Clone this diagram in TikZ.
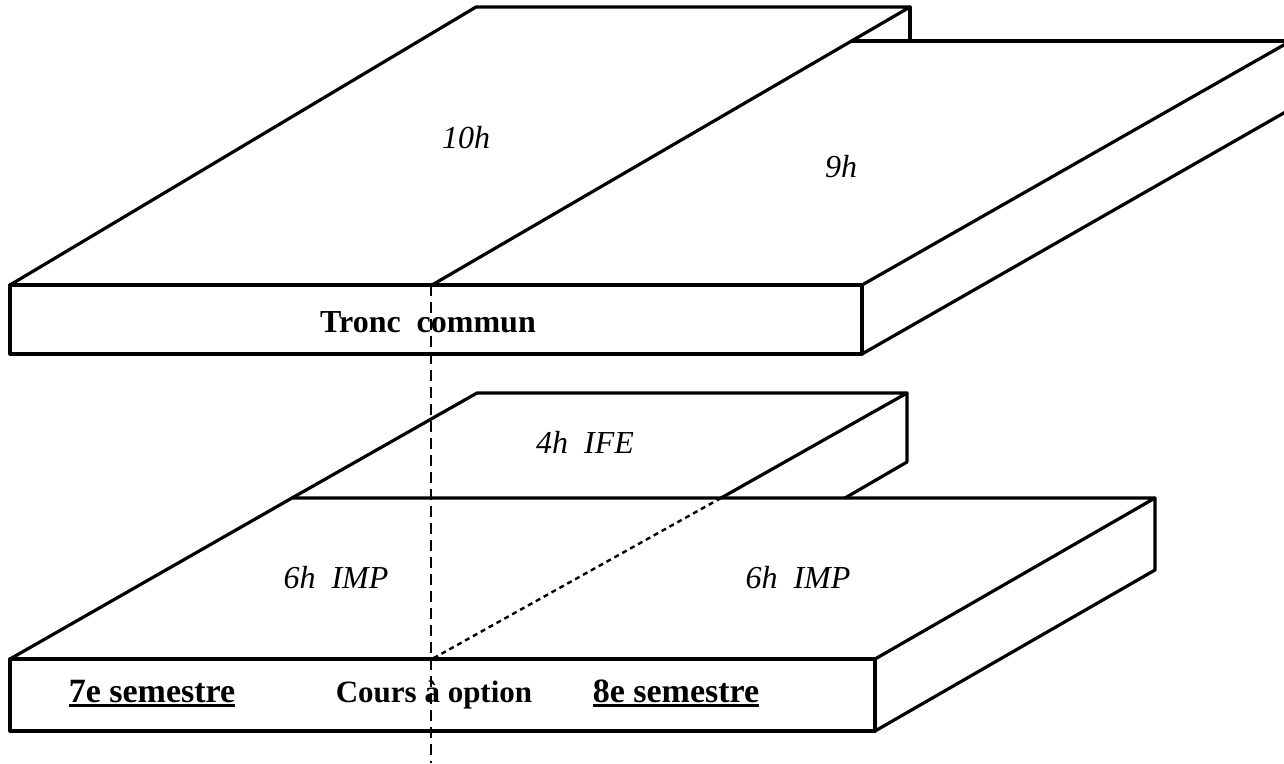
\documentclass[tikz,border=0pt]{standalone}
\usepackage{fontspec}
\setmainfont{Liberation Serif}
\usetikzlibrary{calc}

\newcommand{\semline}[1]{\setbox0=\hbox{#1}\rlap{\rule[-5pt]{\wd0}{2.8pt}}\box0}

\begin{document}
\begin{tikzpicture}[
    x=1pt, y=-1pt,
    plate/.style={line width=3.2pt, line join=round, line cap=round},
    cutline/.style={line width=1.8pt, dash pattern=on 11pt off 6pt},
    hidden/.style={line width=2.4pt, dash pattern=on 5pt off 4pt},
    hourlabel/.style={font=\fontsize{32}{38}\selectfont\itshape, anchor=base, inner sep=0pt},
    semlabel/.style={font=\fontsize{31}{37}\selectfont\bfseries, anchor=base, inner sep=0pt},
    semlabel/.default=31
]
\useasboundingbox (0,0) rectangle (1284,763);
\clip (0,0) rectangle (1284,763);

% Tronc commun slab
\draw[plate] (10,285) rectangle (862,354);
\draw[plate] (10,285) -- (476,7) -- (910,7) -- (432,285);
\draw[plate] (910,7) -- (910,41);
\draw[plate] (852,41) -- (1300,41);
\draw[plate] (862,285) -- (1296,38);
\draw[plate] (862,354) -- (1296,106);

% Cours a option slab
\draw[plate] (477,393) -- (907,393) -- (721,498);
\draw[plate] (477,393) -- (292,498);
\draw[plate] (907,393) -- (907,462) -- (845,498);
\draw[plate] (10,659) rectangle (875,731);
\draw[plate] (10,659) -- (292,498) -- (1155,498) -- (875,659);
\draw[plate] (1155,498) -- (1155,570) -- (875,731);
\draw[hidden] (721,498) -- (432,659);

% cut between the semesters
\draw[cutline] (431,285) -- (431,763);

% hours
\node[hourlabel] at (466,148) (h10) {10h};
\node[hourlabel] at (841,177) (h9) {9h};
\node[hourlabel] at (585,453) (hife) {4h~~IFE};
\node[hourlabel] at (336,588) (himp7) {6h~~IMP};
\node[hourlabel] at (798,588) (himp8) {6h~~IMP};

% labels on the front faces
\node[semlabel, font=\fontsize{32}{38}\selectfont\bfseries] at (428,332) (tronc) {Tronc~~commun};
\node[semlabel, font=\fontsize{34}{40}\selectfont\bfseries] at (152,702) (sem7) {\semline{7e semestre}};
\node[semlabel] at (434,702) (option) {Cours à option};
\node[semlabel, font=\fontsize{34}{40}\selectfont\bfseries] at (676,702) (sem8) {\semline{8e semestre}};

\end{tikzpicture}
\end{document}
